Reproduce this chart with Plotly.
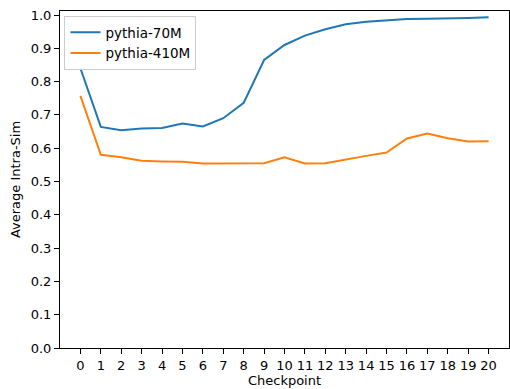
import plotly.graph_objects as go

checkpoints = list(range(21))
pythia_70m = [0.840, 0.664, 0.654, 0.659, 0.661, 0.674, 0.665, 0.690, 0.736, 0.865, 0.910,
              0.938, 0.957, 0.972, 0.980, 0.985, 0.988, 0.989, 0.989, 0.991, 0.993]
pythia_410m = [0.757, 0.580, 0.573, 0.562, 0.560, 0.559, 0.554, 0.555, 0.554, 0.555, 0.573,
               0.554, 0.555, 0.567, 0.577, 0.587, 0.629, 0.644, 0.630, 0.620, 0.621]
y_ticks = [round(i * 0.1, 1) for i in range(11)]

font = "DejaVu Sans"
fig = go.Figure()
fig.add_trace(go.Scatter(x=checkpoints, y=pythia_70m, mode="lines", name="pythia-70M",
                         line=dict(color="#1f77b4", width=2)))
fig.add_trace(go.Scatter(x=checkpoints, y=pythia_410m, mode="lines", name="pythia-410M",
                         line=dict(color="#ff7f0e", width=2)))

fig.update_layout(
    width=510, height=389,
    margin=dict(l=60, r=1, t=11, b=41),
    paper_bgcolor="white", plot_bgcolor="white",
    font=dict(family=font, size=13, color="black"),
    showlegend=True,
    legend=dict(x=0.01, y=0.985, xanchor="left", yanchor="top",
                bgcolor="rgba(255,255,255,0.8)", bordercolor="#cccccc", borderwidth=1,
                font=dict(size=13.5), tracegroupgap=0),
)
fig.update_xaxes(range=[-1, 21], tickvals=checkpoints, ticktext=[str(c) for c in checkpoints],
                 showgrid=False, zeroline=False, showline=True, mirror=True,
                 linecolor="black", linewidth=1, ticks="outside", ticklen=5,
                 tickcolor="black", tickfont=dict(size=13),
                 title=dict(text="Checkpoint", standoff=3, font=dict(size=13)))
fig.update_yaxes(range=[0, 1.012], tickvals=y_ticks, ticktext=[f"{v:.1f}" for v in y_ticks],
                 showgrid=False, zeroline=False, showline=True, mirror=True,
                 linecolor="black", linewidth=1, ticks="outside", ticklen=5,
                 tickcolor="black", tickfont=dict(size=13),
                 title=dict(text="Average Intra-Sim", standoff=7, font=dict(size=13)))
fig.write_html("out.html")
